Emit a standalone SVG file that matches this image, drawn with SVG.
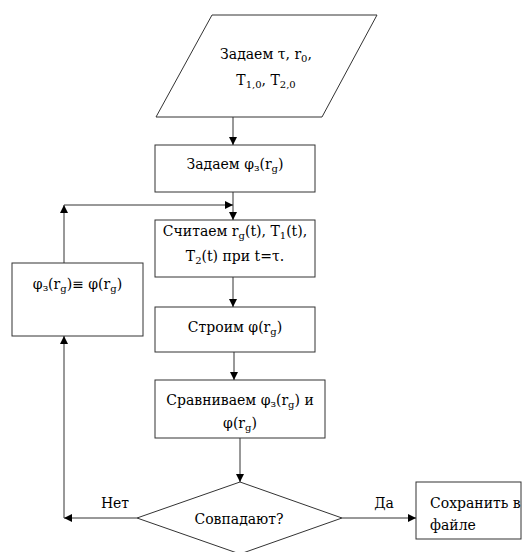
<svg xmlns="http://www.w3.org/2000/svg" width="522" height="552" viewBox="0 0 522 552">
<defs>
<marker id="arr" viewBox="0 0 10 10" refX="10" refY="5" markerWidth="8" markerHeight="8" markerUnits="userSpaceOnUse" orient="auto">
<path d="M0,0 L10,5 L0,10 z" fill="#000"/>
</marker>
</defs>
<style>
.shape{fill:#fff;stroke:#333;stroke-width:1}
text{font-family:'DejaVu Serif','Liberation Serif',serif;font-size:14px;fill:#000}
.s{font-size:10px}
.c{text-anchor:middle}
.edge{fill:none;stroke:#333;stroke-width:1}
</style>
<rect width="522" height="552" fill="#fff"/>
<g id="input">
<polygon class="shape" points="212,15 377,15 322,117 156,117"/>
<text class="c" x="266" y="59">Задаем τ, r<tspan class="s" dy="3">0</tspan><tspan dy="-3">,</tspan></text>
<text class="c" x="266" y="85">T<tspan class="s" dy="3">1,0</tspan><tspan dy="-3">, T</tspan><tspan class="s" dy="3">2,0</tspan></text>
</g>
<g id="set-phi">
<rect class="shape" x="155" y="145" width="160" height="47"/>
<text class="c" x="235" y="169">Задаем φ<tspan class="s" dy="2">з</tspan><tspan dy="-2">(r</tspan><tspan class="s" dy="3">g</tspan><tspan dy="-3">)</tspan></text>
</g>
<g id="compute">
<rect class="shape" x="155" y="220" width="160" height="57"/>
<text class="c" x="235" y="236">Считаем r<tspan class="s" dy="3">g</tspan><tspan dy="-3">(t), T</tspan><tspan class="s" dy="3">1</tspan><tspan dy="-3">(t),</tspan></text>
<text class="c" x="235" y="261">T<tspan class="s" dy="3">2</tspan><tspan dy="-3">(t) при t=τ.</tspan></text>
</g>
<g id="assign">
<rect class="shape" x="12" y="263" width="131" height="73"/>
<text class="c" x="77.5" y="289">φ<tspan class="s" dy="2">з</tspan><tspan dy="-2">(r</tspan><tspan class="s" dy="3">g</tspan><tspan dy="-3">)≡ φ(r</tspan><tspan class="s" dy="3">g</tspan><tspan dy="-3">)</tspan></text>
</g>
<g id="build">
<rect class="shape" x="155" y="307" width="160" height="45"/>
<text class="c" x="235" y="332">Строим φ(r<tspan class="s" dy="3">g</tspan><tspan dy="-3">)</tspan></text>
</g>
<g id="compare">
<rect class="shape" x="155" y="380" width="170" height="58"/>
<text class="c" x="240" y="405">Сравниваем φ<tspan class="s" dy="2">з</tspan><tspan dy="-2">(r</tspan><tspan class="s" dy="3">g</tspan><tspan dy="-3">) и</tspan></text>
<text class="c" x="240" y="428">φ(r<tspan class="s" dy="3">g</tspan><tspan dy="-3">)</tspan></text>
</g>
<g id="decision">
<polygon class="shape" points="240,482 342,518 240,554 137,518"/>
<text class="c" x="239" y="524">Совпадают?</text>
</g>
<g id="save">
<rect class="shape" x="416" y="482" width="105" height="57"/>
<text x="430" y="508">Сохранить в</text>
<text x="430" y="530">файле</text>
</g>
<g id="connectors">
<line class="edge" x1="233" y1="117" x2="233" y2="145" marker-end="url(#arr)"/>
<line class="edge" x1="233" y1="192" x2="233" y2="220" marker-end="url(#arr)"/>
<line class="edge" x1="233" y1="277" x2="233" y2="307" marker-end="url(#arr)"/>
<line class="edge" x1="234" y1="352" x2="234" y2="380" marker-end="url(#arr)"/>
<line class="edge" x1="240" y1="438" x2="240" y2="482" marker-end="url(#arr)"/>
<line class="edge" x1="342" y1="518" x2="416" y2="518" marker-end="url(#arr)"/>
<line class="edge" x1="137" y1="518" x2="64" y2="518" marker-end="url(#arr)"/>
<line class="edge" x1="64" y1="518" x2="64" y2="336" marker-end="url(#arr)"/>
<line class="edge" x1="64" y1="263" x2="64" y2="205" marker-end="url(#arr)"/>
<line class="edge" x1="64" y1="205" x2="233" y2="205" marker-end="url(#arr)"/>
<text class="c" x="115" y="508">Нет</text>
<text class="c" x="384" y="508">Да</text>
</g>
</svg>
